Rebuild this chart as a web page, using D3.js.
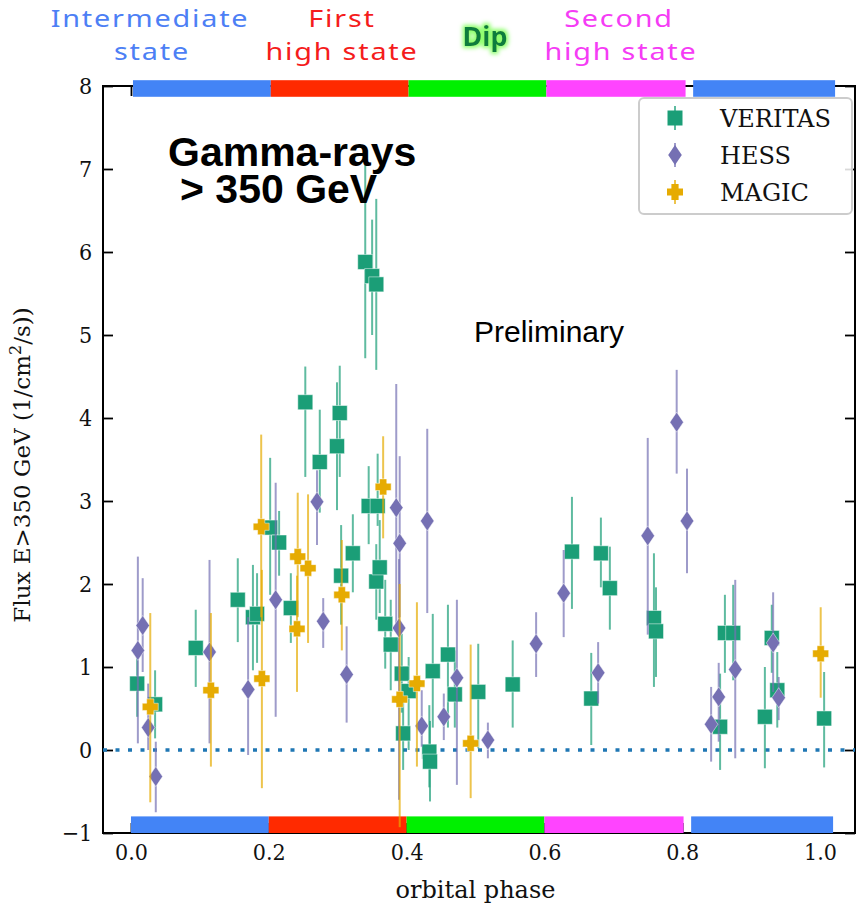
<!DOCTYPE html>
<html>
<head>
<meta charset="utf-8">
<script src="https://cdn.jsdelivr.net/npm/d3@7"></script>
<style>
  body { margin: 0; background: #fff; }
</style>
</head>
<body>
<div id="chart"></div>
<script>
// data (phase, flux, upper and lower error ends)
const veritasPhase = [0.009, 0.035, 0.094, 0.155, 0.177, 0.183, 0.202, 0.215, 0.232, 0.253, 0.274, 0.299, 0.303, 0.305, 0.322, 0.340, 0.350, 0.356, 0.345, 0.358, 0.356, 0.361, 0.369, 0.377, 0.393, 0.395, 0.403, 0.438, 0.433, 0.434, 0.460, 0.470, 0.504, 0.554, 0.640, 0.682, 0.695, 0.668, 0.759, 0.762, 0.855, 0.862, 0.874, 0.920, 0.930, 0.938, 1.006];
const veritasFlux = [0.80, 0.55, 1.23, 1.81, 1.60, 1.64, 2.68, 2.50, 1.71, 4.19, 3.47, 3.66, 4.06, 2.10, 2.37, 5.88, 5.71, 5.61, 2.94, 2.94, 2.03, 2.20, 1.52, 1.27, 0.92, 0.20, 0.71, 0.95, -0.02, -0.14, 1.15, 0.67, 0.70, 0.79, 2.39, 2.37, 1.95, 0.62, 1.59, 1.43, 0.28, 1.41, 1.41, 0.40, 1.35, 0.72, 0.38];
const veritasHi = [1.12, 0.96, 1.69, 2.31, 2.23, 2.13, 3.52, 2.88, 2.13, 4.62, 4.10, 4.43, 4.63, 2.71, 2.84, 7.05, 6.39, 6.64, 3.42, 3.57, 2.48, 2.77, 2.05, 1.81, 1.40, 0.60, 1.12, 1.64, 0.54, 0.35, 1.75, 1.20, 1.28, 1.32, 3.05, 2.80, 2.45, 1.17, 2.37, 1.96, 0.92, 1.87, 1.99, 1.00, 1.75, 1.18, 0.94];
const veritasLo = [0.40, 0.14, 0.76, 1.30, 0.96, 1.05, 1.87, 2.10, 1.29, 3.29, 2.86, 2.89, 3.29, 1.51, 1.90, 4.72, 5.00, 4.58, 2.48, 2.70, 1.57, 1.65, 0.98, 0.72, 0.45, -0.24, 0.00, 0.27, -0.45, -0.62, 0.27, 0.27, 0.02, 0.27, 1.70, 1.96, 1.45, 0.06, 0.76, 0.88, -0.24, 0.93, 0.84, -0.22, 0.93, 0.27, -0.21];

const hessPhase = [0.010, 0.017, 0.025, 0.036, 0.114, 0.170, 0.210, 0.270, 0.279, 0.313, 0.385, 0.390, 0.389, 0.430, 0.422, 0.454, 0.473, 0.518, 0.588, 0.628, 0.678, 0.750, 0.792, 0.807, 0.842, 0.853, 0.877, 0.932, 0.940];
const hessFlux = [1.20, 1.50, 0.27, -0.32, 1.18, 0.73, 1.81, 2.99, 1.55, 0.91, 2.92, 2.49, 1.47, 2.76, 0.29, 0.40, 0.87, 0.12, 1.28, 1.89, 0.93, 2.58, 3.95, 2.76, 0.31, 0.64, 0.97, 1.29, 0.63];
const hessHi = [2.33, 2.07, 0.80, 0.10, 2.29, 1.60, 3.22, 3.37, 1.83, 1.49, 4.41, 3.54, 2.30, 3.87, 0.72, 0.68, 1.81, 0.33, 1.66, 2.41, 1.30, 3.76, 4.58, 3.39, 0.76, 1.05, 2.05, 1.90, 0.88];
const hessLo = [0.08, 0.94, 0.00, -0.75, 0.08, -0.06, 0.40, 2.47, 1.23, 0.33, 1.43, 1.60, -0.60, 1.65, 0.04, 0.12, -0.42, -0.10, 0.88, 1.36, 0.56, 1.39, 3.33, 2.13, -0.14, 0.10, -0.10, 0.70, 0.36];

const magicPhase = [0.028, 0.116, 0.189, 0.190, 0.242, 0.257, 0.241, 0.306, 0.366, 0.390, 0.415, 0.493, 1.001];
const magicFlux = [0.52, 0.72, 2.69, 0.86, 2.33, 2.19, 1.46, 1.87, 3.17, 0.61, 0.80, 0.08, 1.16];
const magicHi = [1.65, 1.65, 3.80, 2.17, 3.10, 3.08, 2.10, 2.53, 3.78, 2.00, 1.78, 1.27, 1.72];
const magicLo = [-0.63, -0.20, 1.60, -0.46, 1.60, 1.29, 0.70, 1.20, 2.55, -0.93, -0.20, -0.58, 0.63];

// orbital states along the top / bottom bars
const stateNames = ["Intermediate state", "First high state", "Dip", "Second high state", "Intermediate state"];
const stateStart = [0.0, 0.2, 0.4, 0.6, 0.813];
const stateEnd = [0.2, 0.4, 0.6, 0.802, 1.019];
const stateColors = ["#4384f6", "#ff2a00", "#00f000", "#ff44ff", "#4384f6"];

const xTicks = [0.0, 0.2, 0.4, 0.6, 0.8, 1.0];
const yTicks = [-1, 0, 1, 2, 3, 4, 5, 6, 7, 8];

const series = [
  { name: "VERITAS", color: "#1b9e77", shape: "square", phase: veritasPhase, flux: veritasFlux, hi: veritasHi, lo: veritasLo },
  { name: "HESS", color: "#7570b3", shape: "diamond", phase: hessPhase, flux: hessFlux, hi: hessHi, lo: hessLo },
  { name: "MAGIC", color: "#e6ab02", shape: "plus", phase: magicPhase, flux: magicFlux, hi: magicHi, lo: magicLo },
];

// set the dimensions and margins of the graph
const margin = { top: 86, right: 1, bottom: 74, left: 103 },
  width = 856 - margin.left - margin.right,
  height = 907 - margin.top - margin.bottom;

const svg = d3
  .select("#chart")
  .append("svg")
  .attr("width", 856)
  .attr("height", 907);

const defs = svg.append("defs");
const glow = defs.append("filter").attr("id", "glow").attr("x", "-30%").attr("y", "-30%").attr("width", "160%").attr("height", "160%");
glow.append("feMorphology").attr("in", "SourceAlpha").attr("operator", "dilate").attr("radius", 2).attr("result", "fat");
glow.append("feGaussianBlur").attr("in", "fat").attr("stdDeviation", 2).attr("result", "blur");
glow.append("feFlood").attr("flood-color", "#8cff6a");
glow.append("feComposite").attr("in2", "blur").attr("operator", "in").attr("result", "halo");
const merge = glow.append("feMerge");
merge.append("feMergeNode").attr("in", "halo");
merge.append("feMergeNode").attr("in", "SourceGraphic");

const g = svg
  .append("g")
  .attr("transform", `translate(${margin.left}, ${margin.top})`);

const x = d3.scaleLinear([-0.0406, 1.0508], [0, width]);
const y = d3.scaleLinear([-1, 8], [height, 0]);

const serif = "'DejaVu Serif', serif";

// axes, ticks pointing inward on all four sides
const styleAxis = (sel) => {
  sel.select(".domain").remove();
  sel.selectAll(".tick line").attr("stroke", "#000").attr("stroke-width", 1.8);
  sel.selectAll("text")
    .attr("font-family", serif)
    .attr("font-size", 23)
    .attr("fill", "#111")
    .attr("transform", "scale(0.9,1)");
};

g.append("g")
  .call(d3.axisLeft(y).tickValues(yTicks).tickFormat(d3.format("d")).tickSize(-10).tickPadding(12))
  .call(styleAxis);
g.append("g")
  .attr("transform", `translate(${width},0)`)
  .call(d3.axisRight(y).tickValues(yTicks).tickSize(-10).tickFormat(""))
  .call(styleAxis);
g.append("g")
  .attr("transform", `translate(0,${height})`)
  .call(d3.axisBottom(x).tickValues(xTicks).tickFormat(d3.format(".1f")).tickSize(-10).tickPadding(11))
  .call(styleAxis);
g.append("g")
  .call(d3.axisTop(x).tickValues(xTicks).tickSize(-10).tickFormat(""))
  .call(styleAxis);

// frame
g.append("rect")
  .attr("width", width)
  .attr("height", height)
  .attr("fill", "none")
  .attr("stroke", "#000")
  .attr("stroke-width", 2);

// zero line
g.append("line")
  .attr("x1", 0)
  .attr("x2", width)
  .attr("y1", y(0))
  .attr("y2", y(0))
  .attr("stroke", "#1f77b4")
  .attr("stroke-width", 3.5)
  .attr("stroke-dasharray", "4 8.5");

// state bars top and bottom
const bars = d3.range(stateStart.length);
g.append("g")
  .selectAll("rect")
  .data(bars)
  .join("rect")
  .attr("x", (i) => x(stateStart[i]) + 2)
  .attr("width", (i) => x(stateEnd[i]) - x(stateStart[i]))
  .attr("y", y(8.07))
  .attr("height", y(7.87) - y(8.07))
  .attr("fill", (i) => stateColors[i]);
g.append("g")
  .selectAll("rect")
  .data(bars)
  .join("rect")
  .attr("x", (i) => x(stateStart[i]))
  .attr("width", (i) => x(stateEnd[i]) - x(stateStart[i]))
  .attr("y", y(-0.8))
  .attr("height", y(-1) - y(-0.8))
  .attr("fill", (i) => stateColors[i]);

// marker shapes
function markerPath(shape) {
  if (shape === "square") return "M-7.5,-7.5H7.5V7.5H-7.5Z";
  if (shape === "diamond") return "M0,-10L6.8,0L0,10L-6.8,0Z";
  return "M-3.6,-8H3.6V-3.6H8V3.6H3.6V8H-3.6V3.6H-8V-3.6H-3.6Z";
}

series.forEach((s) => {
  const idx = d3.range(s.phase.length);
  const sg = g.append("g");
  sg.selectAll("line")
    .data(idx)
    .join("line")
    .attr("x1", (i) => x(s.phase[i]))
    .attr("x2", (i) => x(s.phase[i]))
    .attr("y1", (i) => y(s.hi[i]))
    .attr("y2", (i) => y(s.lo[i]))
    .attr("stroke", s.color)
    .attr("stroke-opacity", 0.7)
    .attr("stroke-width", 2);
  sg.selectAll("path")
    .data(idx)
    .join("path")
    .attr("transform", (i) => `translate(${x(s.phase[i])},${y(s.flux[i])})`)
    .attr("d", markerPath(s.shape))
    .attr("fill", s.color)
    .attr("stroke", "#fff")
    .attr("stroke-opacity", 0.6)
    .attr("stroke-width", 0.8);
});

// legend
const legend = g.append("g").attr("transform", `translate(${639 - margin.left},${98 - margin.top})`);
legend.append("rect")
  .attr("width", 213)
  .attr("height", 116)
  .attr("rx", 5)
  .attr("fill", "#fff")
  .attr("fill-opacity", 0.85)
  .attr("stroke", "#ccc")
  .attr("stroke-width", 2);
series.forEach((s, i) => {
  const row = legend.append("g").attr("transform", `translate(36,${20 + i * 37})`);
  row.append("line").attr("y1", -12).attr("y2", 12).attr("stroke", s.color).attr("stroke-opacity", 0.7).attr("stroke-width", 2);
  row.append("path").attr("d", markerPath(s.shape)).attr("fill", s.color);
  row.append("text")
    .attr("x", 45)
    .attr("dy", "0.36em")
    .attr("font-family", serif)
    .attr("font-size", 24)
    .attr("fill", "#111")
    .text(s.name);
});

// axis labels
svg.append("text")
  .attr("x", margin.left + x(0.5))
  .attr("y", 898)
  .attr("text-anchor", "middle")
  .attr("font-family", serif)
  .attr("font-size", 24)
  .attr("fill", "#111")
  .text("orbital phase");

const ylab = svg.append("text")
  .attr("transform", "translate(30,465) rotate(-90)")
  .attr("text-anchor", "middle")
  .attr("font-family", serif)
  .attr("font-size", 23)
  .attr("fill", "#111");
ylab.append("tspan").text("Flux E>350 GeV (1/cm");
ylab.append("tspan").attr("dy", -9).attr("font-size", 16).text("2");
ylab.append("tspan").attr("dy", 9).text("/s))");

// annotations
const sans = "'Liberation Sans', Arial, sans-serif";
const title = svg.append("text")
  .attr("font-family", sans)
  .attr("font-weight", "bold")
  .attr("font-size", 41)
  .attr("fill", "#000");
title.append("tspan").attr("x", 168).attr("y", 166).text("Gamma-rays");
title.append("tspan").attr("x", 180).attr("y", 203).text("> 350 GeV");

svg.append("text")
  .attr("x", 474)
  .attr("y", 342)
  .attr("font-family", sans)
  .attr("font-size", 30)
  .attr("fill", "#000")
  .text("Preliminary");

// state names above the plot (wide hand-lettered look)
const hand = "'Comic Sans MS', 'Noto Sans', sans-serif";
const stateLabels = [
  { lines: ["Intermediate", "state"], cx: [150, 152], color: "#4d7ff5" },
  { lines: ["First", "high state"], cx: [342, 342], color: "#f51c1c" },
  { lines: ["Second", "high state"], cx: [619, 621], color: "#f53cf5" },
];
stateLabels.forEach((l) => {
  l.lines.forEach((t, j) => {
    svg.append("g")
      .attr("transform", `translate(${l.cx[j]},${27 + j * 33}) scale(1.2,1)`)
      .append("text")
      .attr("text-anchor", "middle")
      .attr("font-family", hand)
      .attr("font-size", 24)
      .attr("letter-spacing", 1.5)
      .attr("fill", l.color)
      .text(t);
  });
});
svg.append("text")
  .attr("x", 485)
  .attr("y", 46)
  .attr("text-anchor", "middle")
  .attr("font-family", hand)
  .attr("font-weight", "bold")
  .attr("font-size", 27)
  .attr("fill", "#0b7d3c")
  .attr("filter", "url(#glow)")
  .text(stateNames[2]);
</script>
</body>
</html>
